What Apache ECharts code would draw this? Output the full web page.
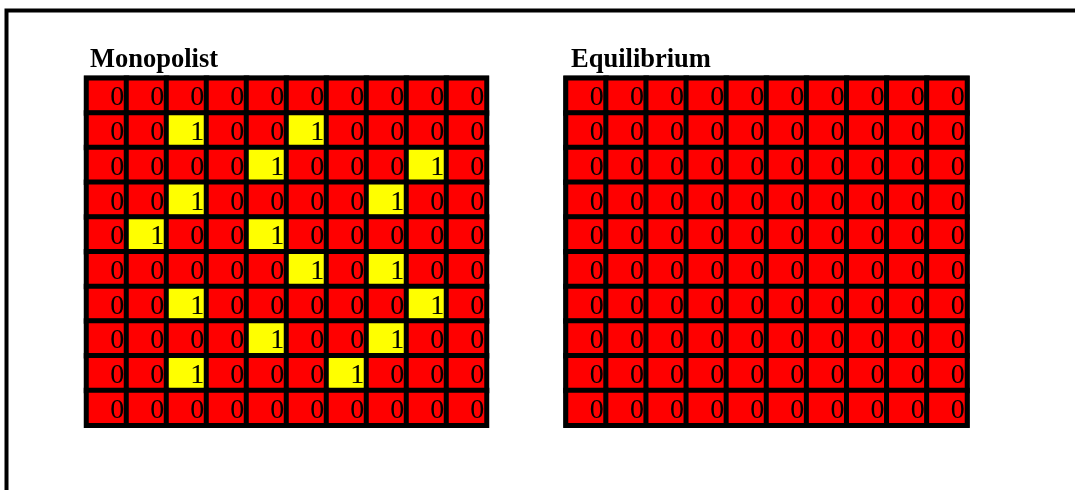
<!DOCTYPE html>
<html>
<head>
<meta charset="utf-8">
<script src="https://cdn.jsdelivr.net/npm/echarts@6/dist/echarts.min.js"></script>
<style>
  html, body { margin: 0; padding: 0; background: #fff; }
  #main { width: 1075px; height: 490px; }
</style>
</head>
<body>
<div id="main"></div>
<script>
var cols = ['1','2','3','4','5','6','7','8','9','10'];
var rows = ['1','2','3','4','5','6','7','8','9','10'];

// Monopolist grid, top row first
var monopolist = [
  [0,0,0,0,0,0,0,0,0,0],
  [0,0,1,0,0,1,0,0,0,0],
  [0,0,0,0,1,0,0,0,1,0],
  [0,0,1,0,0,0,0,1,0,0],
  [0,1,0,0,1,0,0,0,0,0],
  [0,0,0,0,0,1,0,1,0,0],
  [0,0,1,0,0,0,0,0,1,0],
  [0,0,0,0,1,0,0,1,0,0],
  [0,0,1,0,0,0,1,0,0,0],
  [0,0,0,0,0,0,0,0,0,0]
];

// Equilibrium grid
var equilibrium = [
  [0,0,0,0,0,0,0,0,0,0],
  [0,0,0,0,0,0,0,0,0,0],
  [0,0,0,0,0,0,0,0,0,0],
  [0,0,0,0,0,0,0,0,0,0],
  [0,0,0,0,0,0,0,0,0,0],
  [0,0,0,0,0,0,0,0,0,0],
  [0,0,0,0,0,0,0,0,0,0],
  [0,0,0,0,0,0,0,0,0,0],
  [0,0,0,0,0,0,0,0,0,0],
  [0,0,0,0,0,0,0,0,0,0]
];

function toCells(m) {
  var out = [];
  for (var r = 0; r < m.length; r++) {
    for (var c = 0; c < m[r].length; c++) {
      out.push([c, r, m[r][c]]);
    }
  }
  return out;
}

var chart = echarts.init(document.getElementById('main'), null, { renderer: 'canvas' });

var serif = '"Liberation Serif", "DejaVu Serif", serif';
var cellLabel = {
  show: true,
  position: 'insideRight',
  distance: 5,
  offset: [0, 2.5],
  color: '#000',
  textBorderWidth: 0,
  fontFamily: serif,
  fontSize: 28
};
var cellStyle = { borderColor: '#000', borderWidth: 5 };
var titleStyle = { fontFamily: serif, fontWeight: 'bold', fontSize: 26.5, color: '#000' };

var option = {
  animation: false,
  backgroundColor: '#fff',
  graphic: [{
    type: 'rect',
    shape: { x: 6.5, y: 10.5, width: 1200, height: 600 },
    style: { fill: 'none', stroke: '#000', lineWidth: 4 }
  }],
  title: [
    { text: 'Monopolist', left: 90, top: 47, padding: 0, textStyle: titleStyle },
    { text: 'Equilibrium', left: 571, top: 47, padding: 0, textStyle: titleStyle }
  ],
  grid: [
    { left: 86.5, top: 78.2, width: 400, height: 347, show: true,
      backgroundColor: '#000', borderColor: '#000', borderWidth: 5 },
    { left: 566, top: 78.2, width: 401, height: 347, show: true,
      backgroundColor: '#000', borderColor: '#000', borderWidth: 5 }
  ],
  xAxis: [
    { type: 'category', data: cols, gridIndex: 0, show: false },
    { type: 'category', data: cols, gridIndex: 1, show: false }
  ],
  yAxis: [
    { type: 'category', data: rows, gridIndex: 0, show: false, inverse: true },
    { type: 'category', data: rows, gridIndex: 1, show: false, inverse: true }
  ],
  visualMap: {
    type: 'piecewise',
    show: false,
    seriesIndex: [0, 1],
    pieces: [
      { value: 0, color: '#ff0000' },
      { value: 1, color: '#ffff00' }
    ]
  },
  series: [
    { name: 'Monopolist', type: 'heatmap', xAxisIndex: 0, yAxisIndex: 0,
      data: toCells(monopolist), label: cellLabel, itemStyle: cellStyle },
    { name: 'Equilibrium', type: 'heatmap', xAxisIndex: 1, yAxisIndex: 1,
      data: toCells(equilibrium), label: cellLabel, itemStyle: cellStyle }
  ]
};

chart.setOption(option);
</script>
</body>
</html>
